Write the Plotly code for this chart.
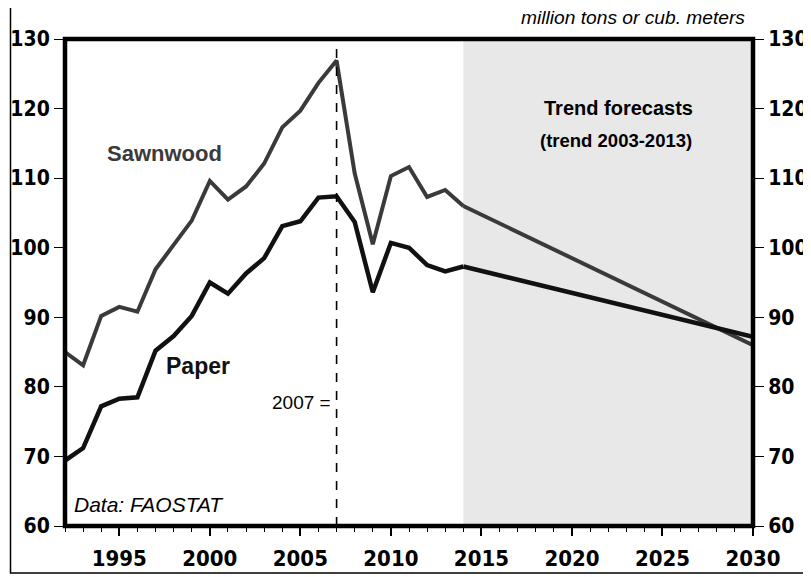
import plotly.graph_objects as go

years = list(range(1992, 2015))
sawnwood = [85.0, 83.1, 90.2, 91.5, 90.8, 96.9, 100.4, 103.9, 109.6, 106.9,
            108.8, 112.1, 117.3, 119.7, 123.7, 126.9, 110.7, 100.5, 110.3, 111.6,
            107.3, 108.3, 106.0]
paper = [69.4, 71.2, 77.2, 78.3, 78.5, 85.2, 87.3, 90.2, 95.0, 93.4,
         96.3, 98.5, 103.1, 103.8, 107.2, 107.4, 103.7, 93.6, 100.7, 100.0,
         97.5, 96.6, 97.3]
forecast_years = [2014, 2030]
sawnwood_trend = [106.0, 86.0]
paper_trend = [97.3, 87.2]

y_ticks = [60, 70, 80, 90, 100, 110, 120, 130]
x_ticks = [1995, 2000, 2005, 2010, 2015, 2020, 2025, 2030]

SAW_COL = "#3a3a3a"
PAP_COL = "#111111"
NARROW = "DejaVu Sans Condensed, Liberation Sans, Arial"
SANS = "Liberation Sans, Arial"

# page body has an 8px margin: figure is drawn 8px in from the window edge
OFF = 8
L, T = 65 - OFF, 39 - OFF
PW, PH = 688, 487
W, H = 811 - OFF, 577 - OFF

fig = go.Figure()
fig.add_trace(go.Scatter(x=years, y=sawnwood, mode="lines",
                         line=dict(color=SAW_COL, width=4), showlegend=False))
fig.add_trace(go.Scatter(x=forecast_years, y=sawnwood_trend, mode="lines",
                         line=dict(color=SAW_COL, width=4), showlegend=False))
fig.add_trace(go.Scatter(x=years, y=paper, mode="lines",
                         line=dict(color=PAP_COL, width=4.5), showlegend=False))
fig.add_trace(go.Scatter(x=forecast_years, y=paper_trend, mode="lines",
                         line=dict(color=PAP_COL, width=4.5), showlegend=False))
fig.add_trace(go.Scatter(x=[1992], y=[60], yaxis="y2", mode="markers",
                         marker=dict(opacity=0), showlegend=False, hoverinfo="skip"))

tickfont = dict(family=NARROW, size=21, color="black", weight="bold")

fig.update_layout(
    width=W, height=H, autosize=False,
    margin=dict(l=L, r=W - L - PW, t=T, b=H - T - PH, autoexpand=False),
    paper_bgcolor="white", plot_bgcolor="white",
    xaxis=dict(range=[1992, 2030], tickmode="array", tickvals=x_ticks, automargin=False,
               ticks="outside", ticklen=9, tickwidth=1.5, tickcolor="black",
               ticklabelstandoff=4,
               showgrid=False, zeroline=False, showline=False,
               tickfont=dict(family=NARROW, size=22, color="black", weight="bold"),
               minor=dict(tickmode="linear", tick0=1992, dtick=1, ticks="outside",
                          ticklen=5, tickwidth=1.2, tickcolor="black", showgrid=False)),
    yaxis=dict(range=[60, 130], tickmode="array", tickvals=y_ticks, automargin=False,
               ticks="outside", ticklen=10, tickwidth=1.2, tickcolor="black",
               showgrid=False, zeroline=False, showline=False, tickfont=tickfont),
    yaxis2=dict(range=[60, 130], tickmode="array", tickvals=y_ticks, overlaying="y",
                automargin=False,
                side="right", ticks="outside", ticklen=10, tickwidth=1.2, tickcolor="black",
                showgrid=False, zeroline=False, showline=False, tickfont=tickfont),
)

fig.add_shape(type="rect", xref="x", yref="y", x0=2014, x1=2030, y0=60, y1=130,
              fillcolor="#e8e8e8", line=dict(width=0), layer="below")
fig.add_shape(type="line", xref="x", yref="paper", x0=2007, x1=2007, y0=0, y1=1,
              line=dict(color="black", width=1.6, dash="dash"), layer="above")
fig.add_shape(type="rect", xref="paper", yref="paper", x0=0, x1=1, y0=0, y1=1,
              line=dict(color="black", width=4.5), layer="above")

def px(x):
    return (x - 65) / PW

def py(y):
    return (526 - y) / PH

fig.add_shape(type="rect", xref="paper", yref="paper",
              x0=px(10.5), x1=px(808), y0=py(573), y1=py(6),
              line=dict(color="black", width=1.5), layer="above")

def ann(text, x, y, size, color="black", bold=False, italic=False, xanchor="center", family=SANS):
    fig.add_annotation(text=text, xref="paper", yref="paper",
                       x=px(x), y=py(y),
                       xanchor=xanchor, yanchor="middle", showarrow=False,
                       font=dict(family=family, size=size, color=color,
                                 weight="bold" if bold else "normal",
                                 style="italic" if italic else "normal"))

ann("Sawnwood", 164, 153, 22, color=SAW_COL, bold=True)
ann("Paper", 198, 366, 23, color=PAP_COL, bold=True)
ann("Trend forecasts", 618, 108, 20, bold=True)
ann("(trend 2003-2013)", 616, 140, 18.5, bold=True)
ann("million tons or cub. meters", 747, 17, 19.2, italic=True, xanchor="right")
ann("2007 =", 333, 402, 19, xanchor="right")
ann("Data: FAOSTAT", 72, 504, 21, italic=True, xanchor="left")

fig.write_html("out.html")
